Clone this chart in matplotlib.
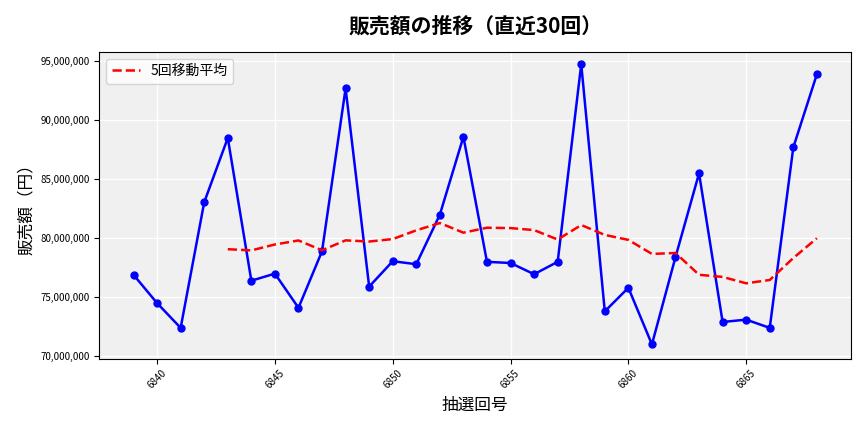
import matplotlib
matplotlib.use("Agg")
import matplotlib.pyplot as plt
import pandas as pd
from matplotlib.ticker import FuncFormatter

plt.rcParams['font.family'] = ['Noto Sans CJK JP', 'DejaVu Sans']

draws = list(range(6839, 6869))
sales = [76.9, 74.5, 72.4, 83.05, 88.5, 76.4, 77.0, 74.1, 78.9, 92.7,
         75.9, 78.05, 77.8, 82.0, 88.6, 78.0, 77.9, 76.95, 78.0, 94.75,
         73.8, 75.8, 71.0, 78.4, 85.5, 72.9, 73.1, 72.4, 87.7, 93.9]
sales = [v * 1e6 for v in sales]

s = pd.Series(sales, index=draws)
ma = s.rolling(5).mean()

fig, ax = plt.subplots(figsize=(8.64, 4.32), dpi=100)
ax.set_facecolor('#f0f0f0')
ax.grid(True, color='white', linewidth=1)
ax.set_axisbelow(True)
ax.plot(draws, sales, color='blue', marker='o', markersize=5, linewidth=1.8)
ax.plot(draws, ma.values, color='red', linestyle='--', linewidth=1.8, label='5回移動平均')
ax.set_title('販売額の推移（直近30回）', fontsize=15, fontweight='bold', pad=14)
ax.set_xlabel('抽選回号', fontsize=12)
ax.set_ylabel('販売額（円）', fontsize=12)
ax.yaxis.set_major_formatter(FuncFormatter(lambda v, p: f'{v:,.0f}'))
ax.tick_params(axis='y', labelsize=7)
ax.tick_params(axis='x', labelsize=7, rotation=45)
ax.set_xticks([6840, 6845, 6850, 6855, 6860, 6865])
ax.set_ylim(69.8e6, 95.8e6)
ax.legend(loc='upper left', fontsize=10)
fig.subplots_adjust(left=0.115, right=0.985, top=0.88, bottom=0.17)
fig.savefig('out.png')
